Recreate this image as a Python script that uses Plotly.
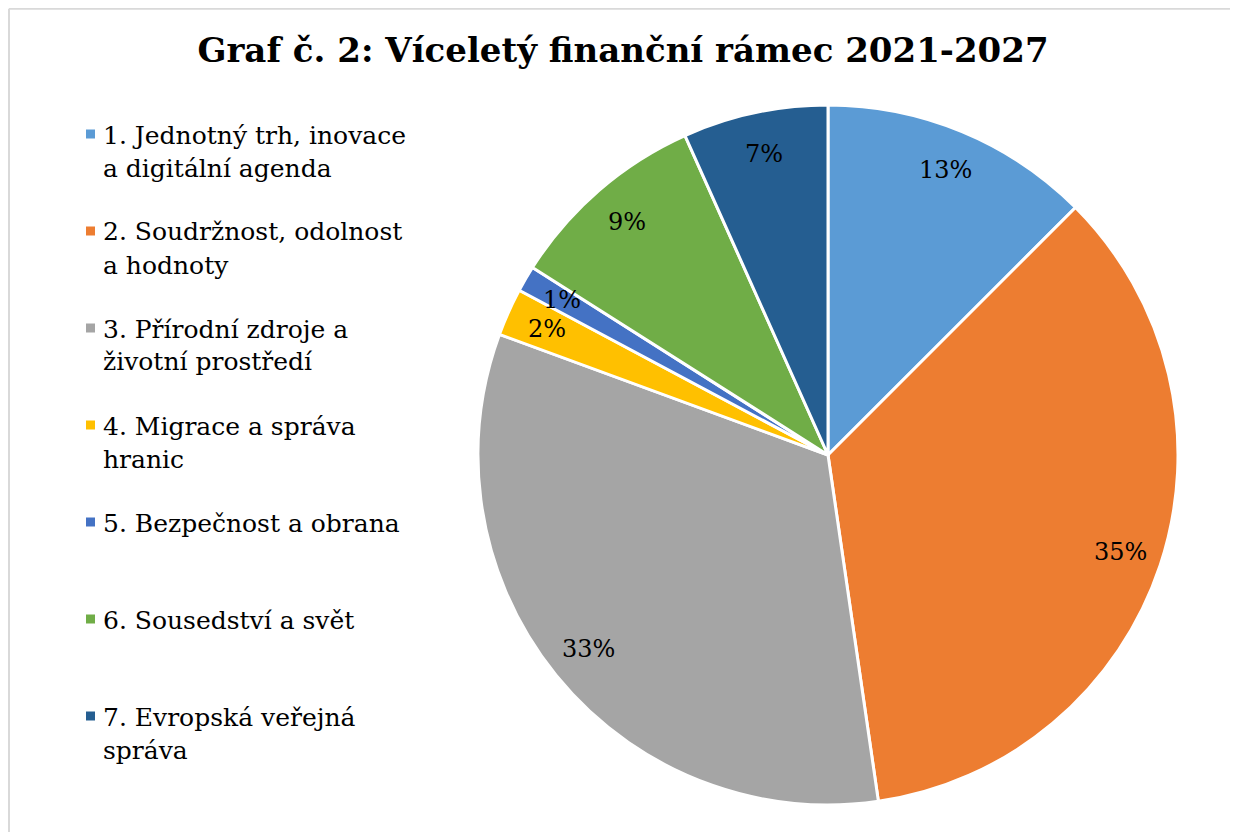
import math
import plotly.graph_objects as go

W, H = 1238, 832
OFF = 8  # page offset of the figure inside the browser window

categories = [
    "1. Jednotný trh, inovace<br>a digitální agenda",
    "2. Soudržnost, odolnost<br>a hodnoty",
    "3. Přírodní zdroje a<br>životní prostředí",
    "4. Migrace a správa<br>hranic",
    "5. Bezpečnost a obrana",
    "6. Sousedství a svět",
    "7. Evropská veřejná<br>správa",
]
shares = [12.5, 35.2, 32.9, 2.2, 1.2, 9.3, 6.7]
pct_labels = ["13%", "35%", "33%", "2%", "1%", "9%", "7%"]
colors = ["#5B9BD5", "#ED7D31", "#A5A5A5", "#FFC000", "#4472C4", "#70AD47", "#255E91"]

FONT = "DejaVu Serif"

# pie geometry (window pixels)
cx, cy, R = 828, 455, 350

def px(x):
    return (x - OFF) / W

def py(y):
    return 1 - (y - OFF) / H

fig = go.Figure(go.Pie(
    labels=[c.replace("<br>", " ") for c in categories],
    values=shares,
    sort=False,
    direction="clockwise",
    rotation=0,
    marker=dict(colors=colors, line=dict(color="white", width=3)),
    textinfo="none",
    hoverinfo="label+percent",
    showlegend=False,
    domain=dict(x=[px(cx - R), px(cx + R)], y=[py(cy + R), py(cy - R)]),
))

annotations = []
shapes = []

# percentage labels at 0.88 R along the slice bisector
total = sum(shares)
cum = 0.0
for v, t in zip(shares, pct_labels):
    mid = (cum + v / 2) / total * 2 * math.pi
    cum += v
    lx = cx + 0.88 * R * math.sin(mid)
    ly = cy - 0.88 * R * math.cos(mid)
    annotations.append(dict(
        x=px(lx), y=py(ly), xref="paper", yref="paper",
        text=t, showarrow=False, xanchor="center", yanchor="middle",
        font=dict(family=FONT, size=24, color="black"),
    ))

# legend
leg_y0, leg_dy, line_dy = 134, 97, 33
for i, (c, col) in enumerate(zip(categories, colors)):
    yc = leg_y0 + i * leg_dy
    shapes.append(dict(
        type="rect", xref="paper", yref="paper",
        x0=px(86), x1=px(95), y0=py(yc + 4.5), y1=py(yc - 4.5),
        fillcolor=col, line=dict(width=0),
    ))
    for j, line in enumerate(c.split("<br>")):
        annotations.append(dict(
            x=px(101), y=py(yc + 1 + j * line_dy), xref="paper", yref="paper",
            text=line, showarrow=False, xanchor="left", yanchor="middle", align="left",
            font=dict(family=FONT, size=25, color="#000000"),
        ))

# outer border (top and left edges visible in the window)
shapes.append(dict(type="line", xref="paper", yref="paper",
                   x0=0.0008, x1=1.1, y0=0.999, y1=0.999,
                   line=dict(color="#D9D9D9", width=2)))
shapes.append(dict(type="line", xref="paper", yref="paper",
                   x0=0.0008, x1=0.0008, y0=-0.1, y1=0.999,
                   line=dict(color="#D9D9D9", width=2)))

fig.update_layout(
    width=W, height=H,
    margin=dict(l=0, r=0, t=0, b=0),
    paper_bgcolor="white",
    title=dict(
        text="<b>Graf č. 2: Víceletý finanční rámec 2021-2027</b>",
        x=px(623), xanchor="center", y=py(50), yanchor="middle",
        font=dict(family=FONT, size=34, color="black"),
    ),
    annotations=annotations,
    shapes=shapes,
)

fig.write_html("out.html")
